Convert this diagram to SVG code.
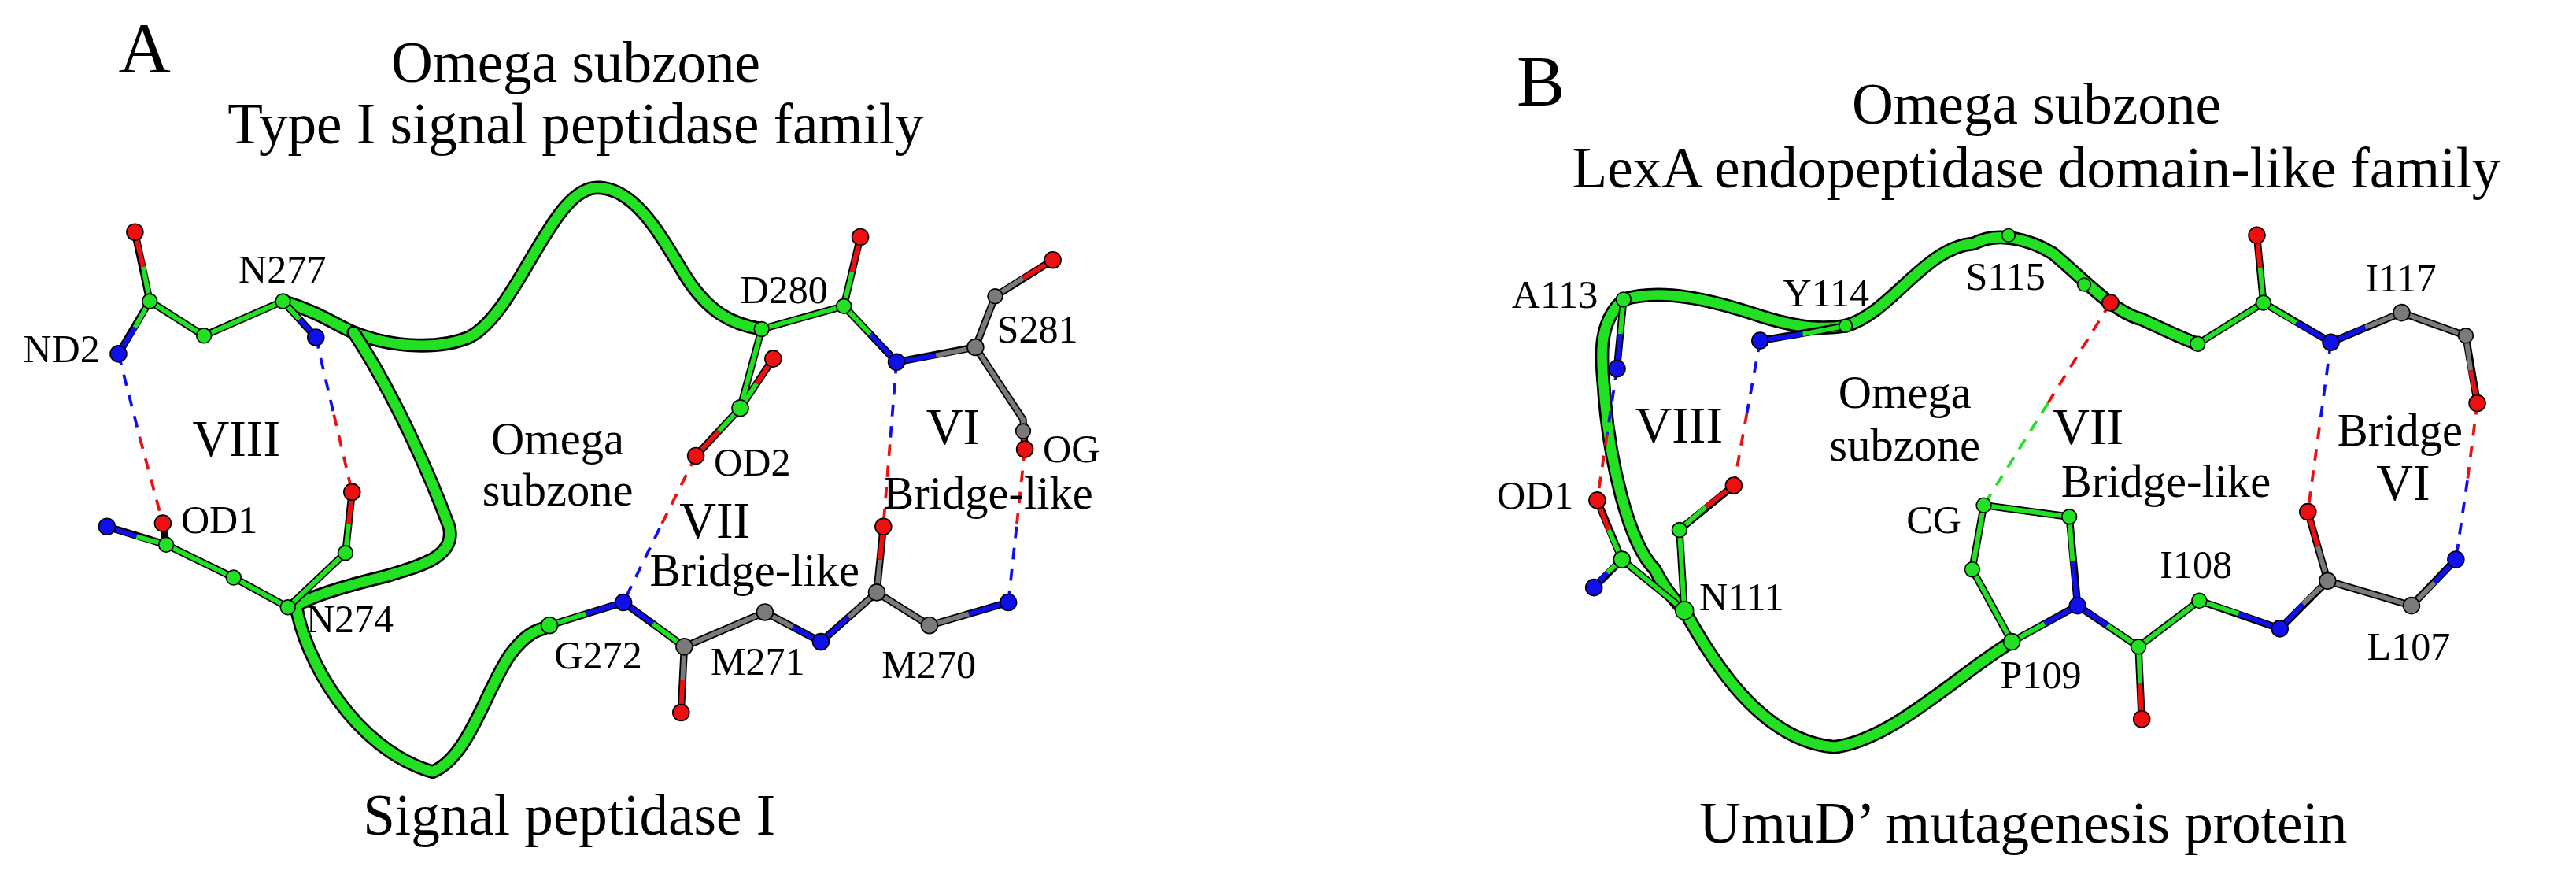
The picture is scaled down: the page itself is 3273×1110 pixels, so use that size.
<svg xmlns="http://www.w3.org/2000/svg" width="3273" height="1110" viewBox="0 0 3273 1110">
<style>
text{font-family:"Liberation Serif","Times New Roman",serif;fill:#000}
.t{font-size:35px;text-anchor:middle}
.big{font-size:44px}
.l{font-size:24px}
.r{font-size:31px}
.m{font-size:28px}
.c{text-anchor:middle}
.tube{fill:none;stroke:#000;stroke-width:8.5;stroke-linecap:round;stroke-linejoin:round}
.tubei{fill:none;stroke:#22e022;stroke-width:6;stroke-linecap:round;stroke-linejoin:round}
.bo{stroke:#000;stroke-width:4.5;fill:none;stroke-linejoin:round}
.g{stroke:#22e022;stroke-width:2.8;fill:none}
.n{stroke:#1010ee;stroke-width:2.8;fill:none}
.o{stroke:#ee1010;stroke-width:2.8;fill:none}
.k{stroke:#7a7a7a;stroke-width:2.8;fill:none}
.dn{stroke:#1010ee;stroke-width:1.8;stroke-dasharray:7 6}
.do{stroke:#ee1010;stroke-width:1.8;stroke-dasharray:7 6}
.dg{stroke:#22e022;stroke-width:1.8;stroke-dasharray:7 6}
.ag{fill:#22e022;stroke:#000;stroke-width:0.8}
.an{fill:#1010ee;stroke:#000;stroke-width:0.8}
.ao{fill:#ee1010;stroke:#000;stroke-width:0.8}
.ac{fill:#7a7a7a;stroke:#000;stroke-width:0.8}
</style>
<rect width="3273" height="1110" fill="#fff"/>
<g transform="scale(2.09)">
<g id="panelA">
<text x="72" y="44" class="big">A</text>
<text x="350" y="50" class="t">Omega subzone</text>
<text x="350" y="87" class="t">Type I signal peptidase family</text>
<g id="tubeA">
<path class="tube" d="M172,183 C195,190 205,198 215,202 C240,212 268,212 285,205 C315,190 335,114 363,114 C385,114 400,140 415,165 C430,190 445,197 463,200"/>
<path class="tubei" d="M172,183 C195,190 205,198 215,202 C240,212 268,212 285,205 C315,190 335,114 363,114 C385,114 400,140 415,165 C430,190 445,197 463,200"/>
<path class="tube" d="M215,202 C240,240 262,290 273,320 C278,340 250,345 235,350 C210,356 190,362 180,368 C185,400 215,455 263,469 C285,460 295,420 310,398 C316,390 322,384 330,382"/>
<path class="tubei" d="M215,202 C240,240 262,290 273,320 C278,340 250,345 235,350 C210,356 190,362 180,368 C185,400 215,455 263,469 C285,460 295,420 310,398 C316,390 322,384 330,382"/>
</g>
<g id="connectorsA">
<line class="dn" x1="72" y1="215" x2="85" y2="266"/><line class="do" x1="85" y1="266" x2="99" y2="318"/>
<line class="dn" x1="192" y1="205" x2="203" y2="252"/><line class="do" x1="203" y1="252" x2="214" y2="299"/>
<line class="do" x1="423" y1="277" x2="401" y2="321"/><line class="dn" x1="401" y1="321" x2="379" y2="366"/>
<line class="dn" x1="545" y1="220" x2="541" y2="270"/><line class="do" x1="541" y1="270" x2="537" y2="320"/>
<line class="do" x1="623" y1="273" x2="618" y2="320"/><line class="dn" x1="618" y1="320" x2="613" y2="366"/>
</g>
<g id="sticksA">
<path class="bo" d="M72,215 L91,183 L82,141 M91,183 L124,204 L172,183 L192,205 M65,320 L101,331 L99,318 M101,331 L142,351 L175,369 L210,336 L214,299 M463,200 L513,186 L523,144 M513,186 L545,220 L593,211 L605,180 L640,158 M593,211 L622,255 L623,273 M463,200 L450,248 L470,218 M450,248 L423,277 M334,380 L379,366 L416,393 L414,433 M416,393 L465,372 L499,390 L533,360 L537,320 M533,360 L565,380 L613,366"/>
<path class="n" d="M72,215 L82,199"/><path class="g" d="M82,199 L91,183 L87,162"/><path class="o" d="M87,162 L82,141"/>
<path class="g" d="M91,183 L124,204 L172,183 L182,194"/><path class="n" d="M182,194 L192,205"/>
<path class="n" d="M65,320 L83,326"/><path class="g" d="M83,326 L101,331 L142,351 L175,369 L210,336 L212,318"/><path class="o" d="M212,318 L214,299"/>
<path class="g" d="M463,200 L513,186 L518,165"/><path class="o" d="M518,165 L523,144"/>
<path class="g" d="M513,186 L529,203"/><path class="n" d="M529,203 L545,220 L569,216"/>
<path class="k" d="M569,216 L593,211 L605,180 L622,169"/><path class="o" d="M622,169 L640,158"/>
<path class="k" d="M593,211 L622,255 L622,264"/><path class="o" d="M622,264 L623,273"/>
<path class="g" d="M463,200 L450,248 L460,233"/><path class="o" d="M460,233 L470,218"/>
<path class="g" d="M450,248 L437,262"/><path class="o" d="M437,262 L423,277"/>
<path class="g" d="M334,380 L356,373"/><path class="n" d="M356,373 L379,366 L397,379"/><path class="g" d="M397,379 L416,393"/>
<path class="k" d="M416,393 L415,413"/><path class="o" d="M415,413 L414,433"/>
<path class="k" d="M416,393 L465,372 L482,381"/><path class="n" d="M482,381 L499,390 L516,375"/>
<path class="k" d="M516,375 L533,360 L565,380 L589,373"/><path class="n" d="M589,373 L613,366"/>
<path class="k" d="M533,360 L535,340"/><path class="o" d="M535,340 L537,320"/>
</g>
<g id="atomsA">
<circle class="an" cx="72" cy="215" r="5"/><circle class="ao" cx="82" cy="141" r="5"/><circle class="ag" cx="91" cy="183" r="4.5"/>
<circle class="ag" cx="124" cy="204" r="4.5"/><circle class="ag" cx="172" cy="183" r="4.5"/><circle class="an" cx="192" cy="205" r="5"/>
<circle class="an" cx="65" cy="320" r="5"/><circle class="ao" cx="99" cy="318" r="5"/><circle class="ag" cx="101" cy="331" r="4.5"/>
<circle class="ag" cx="142" cy="351" r="4.5"/><circle class="ag" cx="175" cy="369" r="4.5"/><circle class="ag" cx="210" cy="336" r="4.5"/><circle class="ao" cx="214" cy="299" r="5"/>
<circle class="ag" cx="463" cy="200" r="4.5"/><circle class="ag" cx="513" cy="186" r="4.5"/><circle class="ao" cx="523" cy="144" r="5"/>
<circle class="an" cx="545" cy="220" r="5"/><circle class="ac" cx="593" cy="211" r="5"/><circle class="ac" cx="605" cy="180" r="4.5"/>
<circle class="ao" cx="640" cy="158" r="5"/><circle class="ac" cx="622" cy="262" r="4.5"/><circle class="ao" cx="623" cy="273" r="5"/>
<circle class="ag" cx="450" cy="248" r="5"/><circle class="ao" cx="470" cy="218" r="5"/><circle class="ao" cx="423" cy="277" r="5"/>
<circle class="ag" cx="334" cy="380" r="5"/><circle class="an" cx="379" cy="366" r="5"/><circle class="ac" cx="416" cy="393" r="5"/>
<circle class="ao" cx="414" cy="433" r="5"/><circle class="ac" cx="465" cy="372" r="5"/><circle class="an" cx="499" cy="390" r="5"/>
<circle class="ac" cx="533" cy="360" r="5"/><circle class="ao" cx="537" cy="320" r="5"/><circle class="ac" cx="565" cy="380" r="5"/>
<circle class="an" cx="613" cy="366" r="5"/>
</g>
<g id="labelsA">
<text x="14" y="220" class="l">ND2</text><text x="145" y="172" class="l">N277</text><text x="110" y="324" class="l">OD1</text>
<text x="186" y="384" class="l">N274</text><text x="450" y="184" class="l">D280</text><text x="606" y="208" class="l">S281</text>
<text x="634" y="281" class="l">OG</text><text x="434" y="289" class="l">OD2</text><text x="337" y="406" class="l">G272</text>
<text x="432" y="410" class="l">M271</text><text x="536" y="412" class="l">M270</text>
<text x="117" y="277" class="r">VIII</text>
<text x="339" y="276" class="m c">Omega</text><text x="339" y="307" class="m c">subzone</text>
<text x="563" y="270" class="r">VI</text><text x="537" y="309" class="m">Bridge-like</text>
<text x="413" y="327" class="r">VII</text><text x="395" y="356" class="m">Bridge-like</text>
<text x="346" y="507" class="t">Signal peptidase I</text>
</g>
</g>
<g id="panelB">
<text x="922" y="64" class="big">B</text>
<text x="1238" y="75" class="t">Omega subzone</text>
<text x="1238" y="114" class="t">LexA endopeptidase domain-like family</text>
<g id="tubeB">
<path class="tube" d="M987,182 C1010,175 1040,182 1070,192 C1095,200 1110,200 1122,198 C1150,190 1170,150 1200,148 C1215,140 1235,146 1248,154 C1265,168 1285,190 1302,194 C1315,200 1325,205 1336,209"/>
<path class="tubei" d="M987,182 C1010,175 1040,182 1070,192 C1095,200 1110,200 1122,198 C1150,190 1170,150 1200,148 C1215,140 1235,146 1248,154 C1265,168 1285,190 1302,194 C1315,200 1325,205 1336,209"/>
<path class="tube" d="M987,182 C972,195 973,215 975,235 C978,280 990,330 1006,346 C1012,358 1018,365 1024,371 C1040,400 1070,450 1115,454 C1150,450 1190,410 1223,390"/>
<path class="tubei" d="M987,182 C972,195 973,215 975,235 C978,280 990,330 1006,346 C1012,358 1018,365 1024,371 C1040,400 1070,450 1115,454 C1150,450 1190,410 1223,390"/>
</g>
<g id="connectorsB">
<line class="dn" x1="983" y1="224" x2="977" y2="264"/><line class="do" x1="977" y1="264" x2="971" y2="304"/>
<line class="dn" x1="1070" y1="207" x2="1062" y2="251"/><line class="do" x1="1062" y1="251" x2="1054" y2="295"/>
<line class="do" x1="1283" y1="184" x2="1245" y2="245"/><line class="dg" x1="1245" y1="245" x2="1206" y2="307"/>
<line class="dn" x1="1417" y1="208" x2="1410" y2="260"/><line class="do" x1="1410" y1="260" x2="1403" y2="311"/>
<line class="do" x1="1506" y1="245" x2="1500" y2="292"/><line class="dn" x1="1500" y1="292" x2="1493" y2="340"/>
</g>
<g id="sticksB">
<path class="bo" d="M987,182 L983,224 M971,304 L986,340 L969,357 M986,340 L1024,371 L1021,322 L1054,295 M1070,207 L1122,198 M1336,209 L1376,184 L1372,143 M1376,184 L1417,208 L1460,190 L1499,204 L1506,245 M1206,307 L1258,314 L1263,368 L1223,390 L1199,346 L1206,307 M1263,368 L1300,393 L1302,437 M1300,393 L1337,365 L1386,382 L1415,353 L1403,311 M1415,353 L1466,368 L1493,340"/>
<path class="g" d="M987,182 L985,203"/><path class="n" d="M985,203 L983,224"/>
<path class="o" d="M971,304 L978,322"/><path class="g" d="M978,322 L986,340 L977,348"/><path class="n" d="M977,348 L969,357"/>
<path class="g" d="M986,340 L1024,371 L1021,322 L1037,308"/><path class="o" d="M1037,308 L1054,295"/>
<path class="n" d="M1070,207 L1096,203"/><path class="g" d="M1096,203 L1122,198"/>
<path class="g" d="M1336,209 L1376,184 L1374,163"/><path class="o" d="M1374,163 L1372,143"/>
<path class="g" d="M1376,184 L1396,196"/><path class="n" d="M1396,196 L1417,208 L1438,199"/>
<path class="k" d="M1438,199 L1460,190 L1499,204 L1502,225"/><path class="o" d="M1502,225 L1506,245"/>
<path class="g" d="M1260,341 L1258,314 L1206,307 L1199,346 L1223,390 L1243,379"/>
<path class="n" d="M1260,341 L1263,368 L1243,379 M1263,368 L1281,380"/>
<path class="g" d="M1281,380 L1300,393 L1337,365 L1361,373"/><path class="g" d="M1300,393 L1301,415"/><path class="o" d="M1301,415 L1302,437"/>
<path class="n" d="M1361,373 L1386,382 L1400,367"/>
<path class="k" d="M1400,367 L1415,353 L1409,332 M1415,353 L1466,368 L1480,354"/>
<path class="o" d="M1409,332 L1403,311"/><path class="n" d="M1480,354 L1493,340"/>
</g>
<g id="atomsB">
<circle class="ag" cx="987" cy="182" r="4.5"/><circle class="an" cx="983" cy="224" r="5"/><circle class="ao" cx="971" cy="304" r="5"/>
<circle class="ag" cx="986" cy="340" r="5"/><circle class="an" cx="969" cy="357" r="5"/><circle class="ag" cx="1024" cy="371" r="5.5"/>
<circle class="ag" cx="1021" cy="322" r="4.5"/><circle class="ao" cx="1054" cy="295" r="5"/><circle class="an" cx="1070" cy="207" r="5"/>
<circle class="ag" cx="1122" cy="198" r="4"/><circle class="ag" cx="1221" cy="143" r="4"/><circle class="ag" cx="1267" cy="173" r="4"/><circle class="ao" cx="1283" cy="184" r="5"/>
<circle class="ag" cx="1336" cy="209" r="4.5"/><circle class="ag" cx="1376" cy="184" r="4.5"/><circle class="ao" cx="1372" cy="143" r="5"/>
<circle class="an" cx="1417" cy="208" r="5"/><circle class="ac" cx="1460" cy="190" r="5"/><circle class="ac" cx="1499" cy="204" r="4.5"/>
<circle class="ao" cx="1506" cy="245" r="5"/><circle class="ag" cx="1206" cy="307" r="4.5"/><circle class="ag" cx="1258" cy="314" r="4.5"/>
<circle class="an" cx="1263" cy="368" r="5"/><circle class="ag" cx="1223" cy="390" r="5"/><circle class="ag" cx="1199" cy="346" r="4.5"/>
<circle class="ag" cx="1300" cy="393" r="4.5"/><circle class="ao" cx="1302" cy="437" r="5"/><circle class="ag" cx="1337" cy="365" r="4.5"/>
<circle class="an" cx="1386" cy="382" r="5"/><circle class="ac" cx="1415" cy="353" r="5"/><circle class="ao" cx="1403" cy="311" r="5"/>
<circle class="ac" cx="1466" cy="368" r="5"/><circle class="an" cx="1493" cy="340" r="5"/>
</g>
<g id="labelsB">
<text x="919" y="187" class="l">A113</text><text x="1084" y="186" class="l">Y114</text><text x="1195" y="176" class="l">S115</text>
<text x="1438" y="177" class="l">I117</text><text x="910" y="309" class="l">OD1</text><text x="1033" y="371" class="l">N111</text>
<text x="1159" y="324" class="l">CG</text><text x="1313" y="351" class="l">I108</text><text x="1216" y="418" class="l">P109</text>
<text x="1439" y="401" class="l">L107</text>
<text x="994" y="269" class="r">VIII</text>
<text x="1158" y="248" class="m c">Omega</text><text x="1158" y="280" class="m c">subzone</text>
<text x="1248" y="270" class="r">VII</text><text x="1253" y="302" class="m">Bridge-like</text>
<text x="1459" y="271" class="m c">Bridge</text><text x="1461" y="304" class="r c">VI</text>
<text x="1230" y="512" class="t">UmuD’ mutagenesis protein</text>
</g>
</g>
</g>
</svg>
